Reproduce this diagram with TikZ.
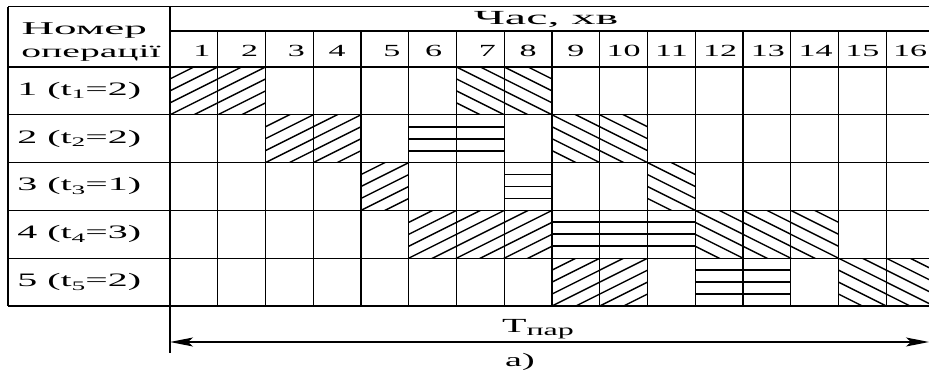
\documentclass[tikz,border=0pt]{standalone}
\usepackage{fontspec}
\setmainfont{Liberation Serif}
\usetikzlibrary{arrows.meta}

% lowered index in the text font (t_1, T_пар)
\newcommand{\lowidx}[2][13]{\raisebox{-3.5pt}{\fontsize{#1}{#1}\selectfont #2}}

\tikzset{
  grid line/.style={line width=1.2pt},
  slant hatch/.style={line width=1.4pt},
  flat hatch/.style={line width=1.8pt},
  lbl/.style={font=\fontsize{19}{22}\selectfont, xscale=2, inner sep=0pt},
  hdr/.style={font=\fontsize{18}{22}\selectfont, xscale=2.2, inner sep=0pt},
  num/.style={font=\fontsize{17}{20}\selectfont, xscale=2, inner sep=0pt, anchor=base},
  span arrow/.style={line width=1.1pt,
    {Stealth[length=23pt,width=9pt,inset=5pt]}-{Stealth[length=23pt,width=9pt,inset=5pt]}},
}

\begin{document}
\begin{tikzpicture}[x=1pt,y=-1pt]
  % --- Page ---
  \useasboundingbox (0,0) rectangle (929,374);
  \clip (0,0) rectangle (929,374);

  % --- Parameters ---
  \def\xL{8}      % left border of the table
  \def\xA{170}    % start of the time columns
  \def\cw{47.75}  % width of one minute column
  \def\yT{7}      % top line
  \def\yH{31}     % line under "Час, хв"
  \def\yN{67}     % line under the minute numbers
  \def\rh{47.8}   % row height
  \def\hs{11.95}  % hatch spacing (vertical)
  \pgfmathsetmacro{\yB}{\yN+5*\rh}   % bottom of the table
  \pgfmathsetmacro{\xR}{\xA+16*\cw}  % right side (falls just off the page)

  % =========================
  % Hatched cells
  % =========================
  % rising hatch "/"
  \foreach \rw/\cl in {1/1,1/2,2/3,2/4,3/5,4/6,4/7,4/8,5/9,5/10}{
    \pgfmathsetmacro{\xa}{\xA+(\cl-1)*\cw}
    \pgfmathsetmacro{\ya}{\yN+(\rw-1)*\rh}
    \begin{scope}
      \clip (\xa,\ya) rectangle ++(\cw,\rh);
      \foreach \kk in {0,...,6}
        \draw[slant hatch] (\xa,\ya+\kk*\hs) -- ++(\cw,-0.5*\cw);
    \end{scope}
  }
  % falling hatch "\"
  \foreach \rw/\cl in {1/7,1/8,2/9,2/10,3/11,4/12,4/13,4/14,5/15,5/16}{
    \pgfmathsetmacro{\xa}{\xA+(\cl-1)*\cw}
    \pgfmathsetmacro{\ya}{\yN+(\rw-1)*\rh}
    \begin{scope}
      \clip (\xa,\ya) rectangle ++(\cw,\rh);
      \foreach \kk in {-2,...,4}
        \draw[slant hatch] (\xa,\ya+\kk*\hs) -- ++(\cw,0.5*\cw);
    \end{scope}
  }
  % horizontal hatch
  \foreach \rw/\cl in {2/6,2/7,3/8,4/9,4/10,4/11,5/12,5/13}{
    \pgfmathsetmacro{\xa}{\xA+(\cl-1)*\cw}
    \pgfmathsetmacro{\ya}{\yN+(\rw-1)*\rh}
    \foreach \kk in {1,2,3}
      \draw[flat hatch] (\xa,\ya+\kk*\rh/4) -- ++(\cw,0);
  }

  % =========================
  % Table lines
  % =========================
  \draw[grid line,line width=1pt] (\xL,\yT) -- (\xR,\yT);
  \draw[grid line] (\xL,\yT) -- (\xL,\yB);
  \draw[grid line] (\xA,\yT) -- (\xA,353);   % runs down to the arrow
  \draw[grid line] (\xA,\yH) -- (\xR,\yH);
  \foreach \j in {0,...,5}
    \draw[grid line] (\xL,\yN+\j*\rh) -- (\xR,\yN+\j*\rh);
  \foreach \i in {1,...,16}
    \draw[grid line] (\xA+\i*\cw,\yH) -- (\xA+\i*\cw,\yB);

  % --- Header ---
  \node[hdr,anchor=base west,xscale=1.14] (opname) at (21,35) {Номер};
  \node[hdr,anchor=base west] (opname2) at (21,58) {операції};
  \node[lbl,anchor=base,font=\fontsize{20}{20}\selectfont,xscale=1.2] (time) at (546,25) {Час, хв};
  % minute numbers (some sit a little right of centre)
  \foreach \i/\dx in {1/8,2/8,3/7,4/0,5/7,6/1,7/7,8/0,9/0,10/0,11/0,12/1,13/1,14/1,15/0,16/0}
    \node[num] (n\i) at (\xA+\i*\cw-0.5*\cw+\dx,57) {\i};

  % --- Operations ---
  \foreach \rw/\tv in {1/2,2/2,3/1,4/3,5/2}
    \node[lbl,anchor=base west,xscale=1.05] (op\rw) at (17,{\yN+(\rw-0.5)*\rh+4.5})
      {\rw\ (t\lowidx{\rw}=\tv)};

  % --- Cycle length ---
  \coordinate (tL) at (\xA,342);
  \coordinate (tR) at (929,342);
  \draw[span arrow] (tL) -- (tR);
  \node[lbl,anchor=base] (tpar) at (538,332) {\fontsize{20}{20}\selectfont Т\lowidx[16]{пар}};
  \node[lbl,anchor=base] (caption) at (520,366) {а)};
\end{tikzpicture}
\end{document}
